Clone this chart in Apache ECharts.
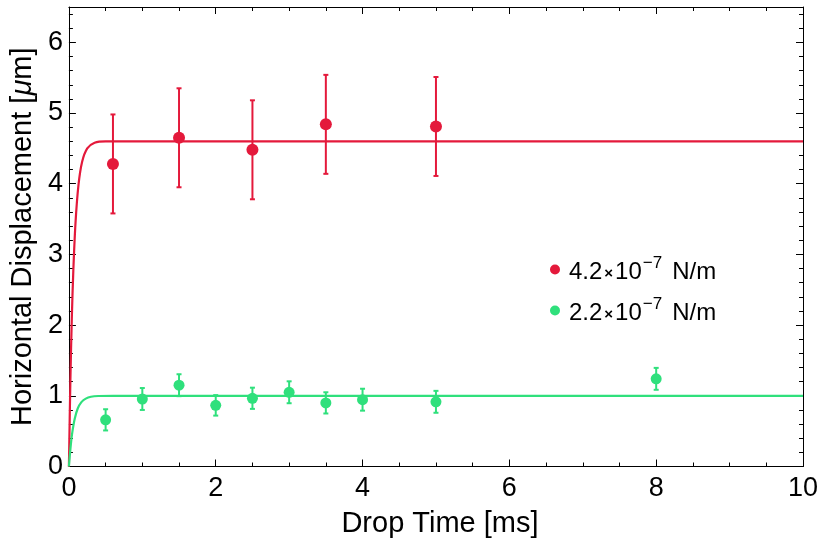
<!DOCTYPE html>
<html>
<head>
<meta charset="utf-8">
<script src="https://cdn.jsdelivr.net/npm/echarts@6/dist/echarts.min.js"></script>
<style>
html,body{margin:0;padding:0;background:#fff;}
#chart{width:831px;height:548px;}
</style>
</head>
<body>
<div id="chart"></div>
<script>
// ---- data ----
const redName = '4.2×10^-7 N/m';
const greenName = '2.2×10^-7 N/m';

const redX = [0.6, 1.5, 2.5, 3.5, 5.0];
const redY = [4.28, 4.65, 4.48, 4.84, 4.81];
const redErr = [0.70, 0.70, 0.70, 0.70, 0.70];

const greenX = [0.5, 1.0, 1.5, 2.0, 2.5, 3.0, 3.5, 4.0, 5.0, 8.0];
const greenY = [0.66, 0.955, 1.15, 0.865, 0.965, 1.05, 0.90, 0.945, 0.915, 1.24];
const greenErr = [0.15, 0.155, 0.155, 0.145, 0.15, 0.155, 0.15, 0.155, 0.155, 0.155];

// fitted curves, points
const redFitX = [0, 0.02, 0.04, 0.06, 0.09, 0.13, 0.18, 0.25, 0.35, 0.5, 10];
const redFitY = [0, 1.22, 2.12, 2.77, 3.45, 3.98, 4.31, 4.50, 4.58, 4.60, 4.60];
const greenFitX = [0, 0.01, 0.03, 0.05, 0.08, 0.12, 0.17, 0.23, 0.3, 0.4, 0.6, 10];
const greenFitY = [0, 0.13, 0.35, 0.51, 0.68, 0.82, 0.91, 0.96, 0.986, 0.997, 1.0, 1.0];

const xTickLabels = [0, 2, 4, 6, 8, 10];
const yTickLabels = [0, 1, 2, 3, 4, 5, 6];

const RED = '#E4193B';
const GREEN = '#2FE07C';
const FONT = 'Liberation Sans, Arial, Helvetica, sans-serif';

function zip(a, b) { return a.map((v, i) => [v, b[i]]); }
function errData(xs, ys, es) { return xs.map((x, i) => [x, ys[i] - es[i], ys[i] + es[i]]); }

function errRender(color) {
  return function (params, api) {
    const x = api.value(0), lo = api.value(1), hi = api.value(2);
    const p1 = api.coord([x, lo]), p2 = api.coord([x, hi]);
    const w = 2.5;
    const st = { stroke: color, lineWidth: 2 };
    return {
      type: 'group',
      children: [
        { type: 'line', shape: { x1: p1[0], y1: p1[1], x2: p2[0], y2: p2[1] }, style: st },
        { type: 'line', shape: { x1: p1[0] - w, y1: p1[1], x2: p1[0] + w, y2: p1[1] }, style: st },
        { type: 'line', shape: { x1: p2[0] - w, y1: p2[1], x2: p2[0] + w, y2: p2[1] }, style: st }
      ]
    };
  };
}

const chart = echarts.init(document.getElementById('chart'), null, { renderer: 'canvas' });

const axisCommon = {
  type: 'value',
  axisLine: { show: true, onZero: false, lineStyle: { color: '#000', width: 1 } },
  axisTick: { show: true, inside: true, length: 7, lineStyle: { color: '#000', width: 1 } },
  minorTick: { show: true, length: 4, lineStyle: { color: '#000', width: 1 } },
  splitLine: { show: false },
  axisLabel: { color: '#000', fontSize: 27, fontFamily: FONT }
};

const option = {
  animation: false,
  backgroundColor: '#fff',
  grid: { left: 68, top: 7, width: 735, height: 459.5, containLabel: false },
  legend: {
    data: [redName, greenName],
    orient: 'vertical',
    left: 545,
    top: 250,
    icon: 'circle',
    itemWidth: 10,
    itemHeight: 10,
    itemGap: 12,
    textStyle: {
      fontSize: 24,
      fontFamily: FONT,
      color: '#000',
      lineHeight: 29,
      rich: {
        b: { fontSize: 24, fontFamily: FONT, color: '#000', lineHeight: 29, verticalAlign: 'bottom', padding: [0, 0, 0, 4] },
        t: { fontSize: 24, fontFamily: FONT, color: '#000', lineHeight: 29, verticalAlign: 'bottom' },
        x: { fontSize: 15, fontFamily: FONT, color: '#000', fontWeight: 'bold', lineHeight: 29, verticalAlign: 'bottom', padding: [0, 2, 3, 2] },
        sup: { fontSize: 17, fontFamily: FONT, color: '#000', lineHeight: 29, verticalAlign: 'top', padding: [0, 10, 0, 1] }
      }
    },
    formatter: function (name) {
      const base = name === redName ? '4.2' : '2.2';
      return '{b|' + base + '}{x|×}{t|10}{sup|−7}{t|N/m}';
    }
  },
  xAxis: [
    Object.assign({}, axisCommon, {
      min: 0, max: 10, interval: 2, position: 'bottom',
      minorTick: Object.assign({}, axisCommon.minorTick, { splitNumber: 4 }),
      axisLabel: Object.assign({}, axisCommon.axisLabel, { margin: 9 }),
      name: 'Drop Time [ms]', nameLocation: 'middle', nameGap: 43,
      nameTextStyle: { color: '#000', fontSize: 29, fontFamily: FONT, padding: [0, 0, 0, 8] }
    }),
    Object.assign({}, axisCommon, {
      min: 0, max: 10, interval: 2, position: 'top',
      minorTick: Object.assign({}, axisCommon.minorTick, { splitNumber: 4 }),
      axisLabel: { show: false }
    })
  ],
  yAxis: [
    Object.assign({}, axisCommon, {
      min: 0, max: 6.5, interval: 1, position: 'left',
      minorTick: Object.assign({}, axisCommon.minorTick, { splitNumber: 5 }),
      axisLabel: Object.assign({}, axisCommon.axisLabel, { margin: 6,
        formatter: v => (yTickLabels.indexOf(v) >= 0 ? String(v) : '') }),
      name: 'Horizontal Displacement [{i|μ}m]', nameLocation: 'middle', nameGap: 31,
      nameTextStyle: { color: '#000', fontSize: 29, fontFamily: FONT,
        rich: { i: { fontSize: 29, fontFamily: FONT, fontStyle: 'italic', color: '#000' } } }
    }),
    Object.assign({}, axisCommon, {
      min: 0, max: 6.5, interval: 1, position: 'right',
      minorTick: Object.assign({}, axisCommon.minorTick, { splitNumber: 5 }),
      axisLabel: { show: false }
    })
  ],
  series: [
    {
      name: 'redFit', type: 'line', data: zip(redFitX, redFitY), smooth: 0.3,
      showSymbol: false, symbol: 'none', lineStyle: { color: RED, width: 2.2 }, z: 2, silent: true
    },
    {
      name: 'greenFit', type: 'line', data: zip(greenFitX, greenFitY), smooth: 0.3,
      showSymbol: false, symbol: 'none', lineStyle: { color: GREEN, width: 2.2 }, z: 2, silent: true
    },
    {
      name: 'redErr', type: 'custom', data: errData(redX, redY, redErr),
      renderItem: errRender(RED), z: 3, encode: { x: 0, y: [1, 2] }
    },
    {
      name: 'greenErr', type: 'custom', data: errData(greenX, greenY, greenErr),
      renderItem: errRender(GREEN), z: 3, encode: { x: 0, y: [1, 2] }
    },
    {
      name: redName, type: 'scatter', data: zip(redX, redY), symbol: 'circle', symbolSize: 12,
      itemStyle: { color: RED, opacity: 1 }, z: 4
    },
    {
      name: greenName, type: 'scatter', data: zip(greenX, greenY), symbol: 'circle', symbolSize: 11,
      itemStyle: { color: GREEN, opacity: 1 }, z: 4
    }
  ]
};

chart.setOption(option);
</script>
</body>
</html>
